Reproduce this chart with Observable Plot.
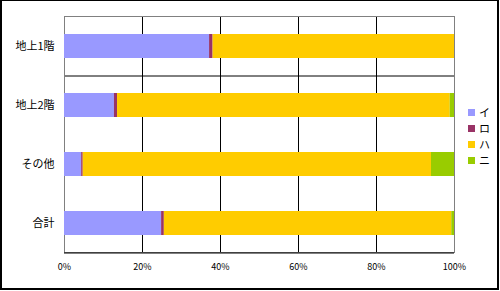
<!DOCTYPE html>
<html>
<head>
<meta charset="utf-8">
<script src="https://cdn.jsdelivr.net/npm/d3@7"></script>
<script src="https://cdn.jsdelivr.net/npm/@observablehq/plot@0.6"></script>
<style>
  html, body { margin: 0; padding: 0; background: #fff; }
  #wrap { position: relative; width: 500px; height: 291px; font-family: "Noto Sans CJK JP", sans-serif; }
  #wrap svg { position: absolute; left: 0; top: 0; }
  #border { position: absolute; left: 0; top: 0; width: 499px; height: 290px; box-sizing: border-box;
            border: 2px solid #000; border-top-width: 1px; pointer-events: none; }
  #legend { position: absolute; left: 468px; top: 104px; font-size: 11px; line-height: 16px; color: #000; }
  #legend .item { display: flex; align-items: center; height: 16px; }
  #legend .sw { width: 7px; height: 7px; margin-right: 4px; }
</style>
</head>
<body>
<div id="wrap"><div id="legend"></div><div id="border"></div></div>
<script>
const categories = ["地上1階", "地上2階", "その他", "合計"];
const seriesNames = ["イ", "ロ", "ハ", "ニ"];
const seriesColors = ["#9999FF", "#993366", "#FFCC00", "#99CC00"];
const valuesI  = [37.2, 12.8, 4.4, 24.9];
const valuesRo = [0.9, 0.8, 0.4, 0.7];
const valuesHa = [61.9, 85.3, 89.3, 73.7];
const valuesNi = [0.0, 1.1, 5.9, 0.7];
const xTicks = [0, 20, 40, 60, 80, 100];
const gridTicks = [20, 40, 60, 80];

const seriesValues = [valuesI, valuesRo, valuesHa, valuesNi];
const data = [];
categories.forEach((c, ci) => {
  seriesNames.forEach((s, si) => {
    data.push({category: c, series: s, value: seriesValues[si][ci]});
  });
});

const step = 59;
const chart = Plot.plot({
  width: 500,
  height: 291,
  marginLeft: 64,
  marginRight: 46,
  marginTop: 16,
  marginBottom: 39,
  style: {background: "transparent", fontFamily: "Noto Sans CJK JP, sans-serif", color: "#000"},
  x: {domain: [0, 100], ticks: xTicks, tickFormat: d => d + "%"},
  y: {domain: categories, paddingInner: 35 / 59, paddingOuter: 35 / 118},
  color: {domain: seriesNames, range: seriesColors},
  marks: [
    Plot.ruleX(gridTicks, {stroke: "#000", strokeOpacity: 1}),
    Plot.ruleY([categories[0]], {stroke: "#000", dy: step / 2}),
    Plot.frame({stroke: "#808080"}),
    Plot.ruleY([categories[categories.length - 1]], {stroke: "#000", dy: step / 2}),
    Plot.barX(data, Plot.stackX({x: "value", y: "category", fill: "series", order: seriesNames})),
    Plot.axisX({ticks: xTicks, tickFormat: d => d + "%", tickSize: 0, tickPadding: 11, fontSize: 9, label: null}),
    Plot.axisY({tickSize: 0, tickPadding: 10, fontSize: 11, label: null})
  ]
});
document.getElementById("wrap").prepend(chart);

const legend = document.getElementById("legend");
seriesNames.forEach((s, i) => {
  const item = document.createElement("div");
  item.className = "item";
  const sw = document.createElement("span");
  sw.className = "sw";
  sw.style.background = seriesColors[i];
  const t = document.createElement("span");
  t.textContent = s;
  item.append(sw, t);
  legend.append(item);
});
</script>
</body>
</html>
